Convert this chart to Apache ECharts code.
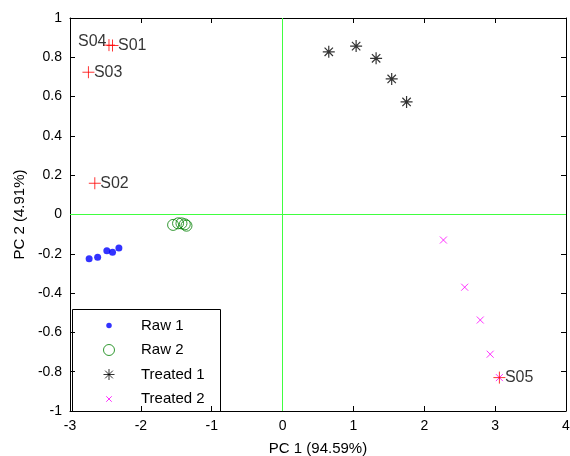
<!DOCTYPE html>
<html><head><meta charset="utf-8">
<script src="https://cdn.jsdelivr.net/npm/echarts@6/dist/echarts.min.js"></script>
<style>html,body{margin:0;padding:0;background:#fff}#c{width:570px;height:456px}</style>
</head><body><div id="c"></div>
<script>
var raw1 = [[-2.73,-0.225],[-2.61,-0.218],[-2.48,-0.184],[-2.40,-0.192],[-2.31,-0.170]];
var raw2 = [[-1.545,-0.053],[-1.475,-0.045],[-1.427,-0.045],[-1.38,-0.050],[-1.356,-0.057]];
var treated1 = [[0.652,0.828],[1.038,0.857],[1.32,0.795],[1.54,0.69],[1.75,0.573]];
var treated2 = [[2.27,-0.13],[2.57,-0.37],[2.79,-0.537],[2.93,-0.711],[3.06,-0.83]];
var sampleNames = ['S01','S02','S03','S04','S05'];
var samplePts = [[-2.40,0.86],[-2.65,0.159],[-2.74,0.724],[-2.45,0.862],[3.06,-0.83]];
var xTicks = [-3,4,1];
var yTicks = [-1,1,0.2];

var FONT = 'Liberation Sans, Arial, sans-serif';
var starPath = 'path://M0,5L10,5M5,0L5,10M1.5,1.5L8.5,8.5M1.5,8.5L8.5,1.5';
var plusPath = 'path://M0,5L10,5M5,0L5,10';
var xPath = 'path://M0,0L10,10M0,10L10,0';
var smallDot = 'path://M0,0M12,12M3,6A3,3,0,1,0,9,6A3,3,0,1,0,3,6Z';
var smallX = 'path://M0,0M12,12M3,3L9,9M3,9L9,3';

var chart = echarts.init(document.getElementById('c'));
var labelData = samplePts.map(function(p,i){
  return {value:p, name:sampleNames[i],
    label: sampleNames[i]==='S04' ? {position:'left', offset:[6,-4]} : {position:'right', offset:[-3,0]}};
});
var axisCommon = {
  axisLine:{show:true, onZero:false, lineStyle:{color:'#000',width:1}},
  axisTick:{show:true, inside:true, length:5, lineStyle:{color:'#000'}},
  splitLine:{show:false}
};
chart.setOption({
  animation:false,
  grid:{left:70, right:4, top:18, bottom:45, containLabel:false, outerBoundsMode:'none'},
  xAxis:[
    Object.assign({type:'value', min:xTicks[0], max:xTicks[1], interval:xTicks[2], position:'bottom',
      name:'PC 1 (94.59%)', nameLocation:'middle', nameGap:30,
      nameTextStyle:{color:'#000', fontSize:15, fontFamily:FONT},
      axisLabel:{color:'#000', fontSize:14, fontFamily:FONT, margin:8}}, axisCommon),
    Object.assign({type:'value', min:xTicks[0], max:xTicks[1], interval:xTicks[2], position:'top',
      axisLabel:{show:false}}, axisCommon)
  ],
  yAxis:[
    Object.assign({type:'value', min:yTicks[0], max:yTicks[1], interval:yTicks[2], position:'left',
      name:'PC 2 (4.91%)', nameLocation:'middle', nameGap:42,
      nameTextStyle:{color:'#000', fontSize:15, fontFamily:FONT},
      axisLabel:{color:'#000', fontSize:14, fontFamily:FONT, margin:8}}, axisCommon),
    Object.assign({type:'value', min:yTicks[0], max:yTicks[1], interval:yTicks[2], position:'right',
      axisLabel:{show:false}}, axisCommon)
  ],
  legend:{
    orient:'vertical', left:72, top:314, itemWidth:20, itemHeight:11, itemGap:9.5,
    padding:[4,0,0,31],
    textStyle:{color:'#000', fontSize:15, fontFamily:FONT, padding:[0,0,0,17]},
    data:[
      {name:'Raw 1', icon:smallDot, itemStyle:{color:'#0000ff'}},
      {name:'Raw 2', icon:'circle', itemStyle:{color:'transparent', borderColor:'#008000', borderWidth:1}},
      {name:'Treated 1', icon:starPath, itemStyle:{color:'transparent', borderColor:'#000', borderWidth:1}},
      {name:'Treated 2', icon:smallX, itemStyle:{color:'transparent', borderColor:'#ff00ff', borderWidth:1}}
    ]
  },
  graphic:[{type:'rect', left:72, top:309, shape:{width:148, height:102}, style:{fill:'#fff', stroke:'#000', lineWidth:1}, z:0, zlevel:0}],
  series:[
    {type:'line', data:[], markLine:{silent:true, symbol:'none', label:{show:false},
      lineStyle:{color:'#40ff40', width:1, type:'solid'},
      data:[
        [{coord:[0,yTicks[0]], lineStyle:{color:'#40ff40'}},{coord:[0,yTicks[1]]}],
        [{coord:[xTicks[0],0], lineStyle:{color:'#40ff40'}},{coord:[xTicks[1],0]}]
      ]}, z:1},
    {name:'Raw 1', type:'scatter', data:raw1, symbol:'circle', symbolSize:7, itemStyle:{color:'#0000ff'}, z:3},
    {name:'Raw 2', type:'scatter', data:raw2, symbol:'circle', symbolSize:11,
      itemStyle:{color:'transparent', borderColor:'#008000', borderWidth:1}, z:3},
    {name:'Treated 1', type:'scatter', data:treated1, symbol:starPath, symbolSize:12,
      itemStyle:{color:'transparent', borderColor:'#000', borderWidth:1.2}, z:3},
    {name:'Treated 2', type:'scatter', data:treated2, symbol:xPath, symbolSize:7,
      itemStyle:{color:'transparent', borderColor:'#ff00ff', borderWidth:1}, z:3},
    {name:'samples', type:'scatter', data:labelData, symbol:plusPath, symbolSize:12,
      itemStyle:{color:'transparent', borderColor:'#ff0000', borderWidth:1},
      label:{show:true, formatter:'{b}', color:'#000', fontSize:16, fontFamily:FONT, distance:2}, z:4}
  ]
});
</script></body></html>
